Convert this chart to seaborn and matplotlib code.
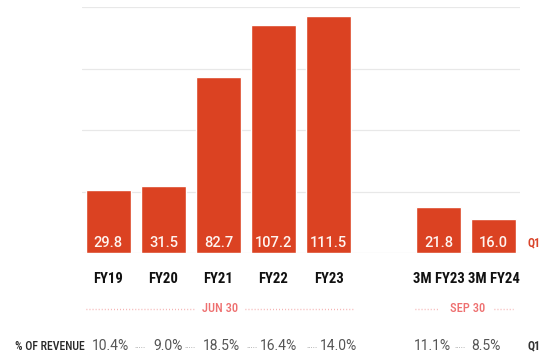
import numpy as np
import pandas as pd
import matplotlib
matplotlib.use("Agg")
import matplotlib.pyplot as plt
import matplotlib.transforms as mtransforms
from matplotlib import font_manager
import seaborn as sns

# ---- data ----
categories = ["FY19", "FY20", "FY21", "FY22", "FY23", "3M FY23", "3M FY24"]
revenue = [29.8, 31.5, 82.7, 107.2, 111.5, 21.8, 16.0]
pct_labels = ["10.4%", "9.0%", "18.5%", "16.4%", "14.0%", "11.1%", "8.5%"]
group_labels = ["JUN 30", "SEP 30"]
row_label = "% OF REVENUE"
q1_label = "Q1"

sns.set_theme(style="white")
names = {f.name for f in font_manager.fontManager.ttflist}
NARROW = "Roboto Condensed" if "Roboto Condensed" in names else "DejaVu Sans"
plt.rcParams["font.family"] = ["Roboto", "DejaVu Sans"]

BAR = "#DB4222"
RED = "#D9442A"
PINK = "#EE7070"
PINK_DOTS = "#F3A5A5"

fig = plt.figure(figsize=(5.48, 3.6), dpi=100)
ax = fig.add_axes([82 / 548, (360 - 253) / 360, 438 / 548, 246 / 360])

spacer = " "
order = categories[:5] + [spacer] + categories[5:]
df = pd.DataFrame({"period": categories, "revenue": revenue})
sns.barplot(data=df, x="period", y="revenue", order=order, color=BAR,
            saturation=1, width=0.82, ax=ax, zorder=3)

ymax = 115.6
ax.set_ylim(0, ymax)
ax.set_xlim(-0.48, 7.48)
ax.set_yticks(np.linspace(0, ymax, 5))
ax.yaxis.grid(True, color="#E8E8E8", linewidth=0.9, zorder=0)
ax.set_axisbelow(True)
for s in ax.spines.values():
    s.set_visible(False)
ax.set_yticklabels([])
ax.tick_params(axis="both", length=0)
ax.set_xlabel("")
ax.set_ylabel("")
ax.set_xticks(range(len(order)))
ax.set_xticklabels(order, fontweight="bold", fontsize=10.6,
                   color="#111111", fontfamily=NARROW)
ax.tick_params(axis="x", pad=13.5)

pos = {c: order.index(c) for c in categories}
blend = mtransforms.blended_transform_factory(ax.transData, fig.transFigure)

def fy(px):
    return (360 - px) / 360

for c, v in zip(categories, revenue):
    ax.text(pos[c], fy(243), f"{v:.1f}", transform=blend, ha="center",
            va="center", color="#FFF4F0", fontsize=10.5, fontweight="medium",
            zorder=5)
ax.text(7.74, fy(243), q1_label, transform=blend, ha="center", va="center",
        color=RED, fontsize=8.5, fontweight="bold", clip_on=False,
        fontfamily=NARROW)

y_grp = fy(309)
for (x0, x1) in [(-0.4, 1.55), (2.48, 4.45), (5.57, 6.0), (7.0, 7.35)]:
    ax.plot([x0, x1], [y_grp, y_grp], transform=blend, color=PINK_DOTS,
            linestyle=(0, (0.6, 1.6)), linewidth=1.0, clip_on=False)
ax.text(2.03, y_grp, group_labels[0], transform=blend, ha="center",
        va="center", color=PINK, fontsize=9, fontweight="medium",
        fontfamily=NARROW)
ax.text(6.52, y_grp, group_labels[1], transform=blend, ha="center",
        va="center", color=PINK, fontsize=9, fontweight="medium",
        fontfamily=NARROW)

y_pct = fy(346)
fig.text(15 / 548, y_pct, row_label, ha="left", va="center", color="#2A2A2A",
         fontsize=8.5, fontweight="medium", fontfamily=NARROW)
pct_x = [0.045, 1.08, 2.05, 3.1, 4.19, 5.88, 6.86]
for x, t in zip(pct_x, pct_labels):
    ax.text(x, y_pct, t, transform=blend, ha="center", va="center",
            color="#555555", fontsize=10)
for x in [0.57, 1.49, 2.61, 3.7, 6.39]:
    ax.text(x, y_pct, ".....", transform=blend, ha="center", va="center",
            color="#888888", fontsize=6)
ax.text(7.74, y_pct, q1_label, transform=blend, ha="center", va="center",
        color="#333333", fontsize=8.5, fontweight="bold", fontfamily=NARROW)

fig.savefig("out.png", dpi=100, facecolor="white")
